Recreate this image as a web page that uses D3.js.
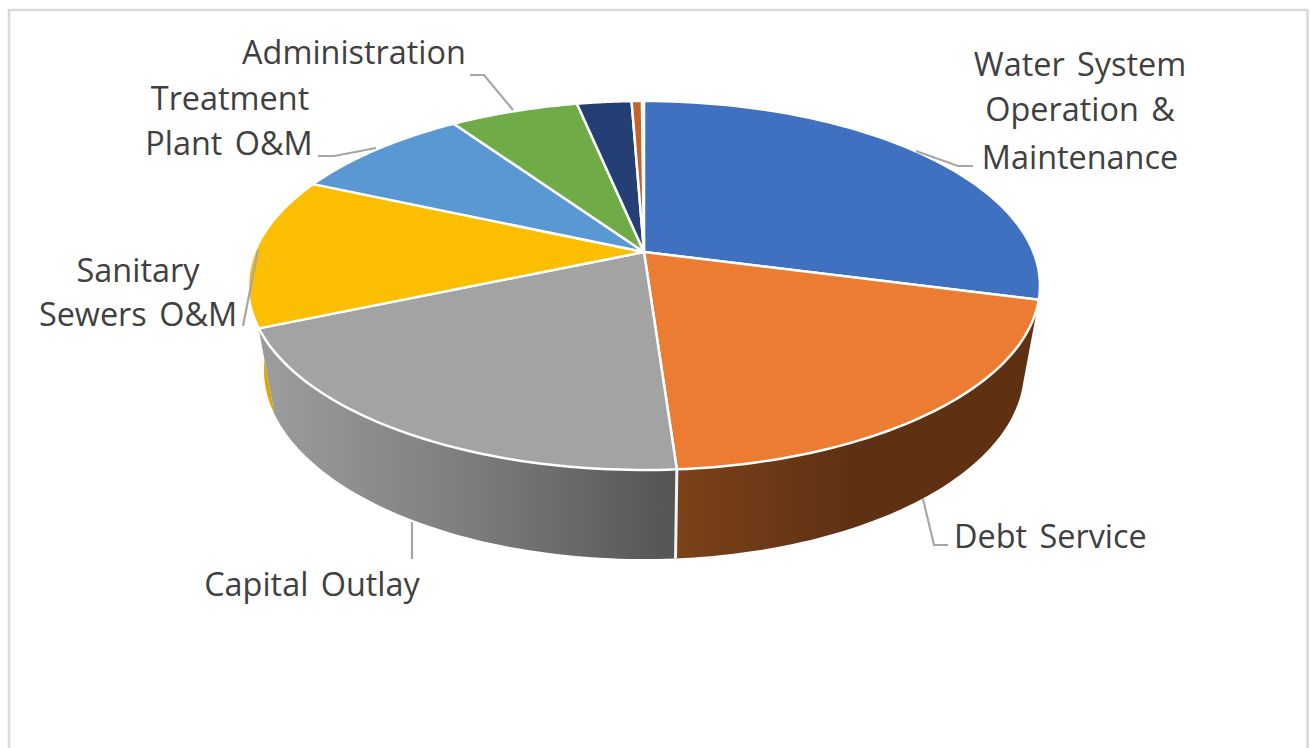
<!DOCTYPE html>
<html>
<head>
<meta charset="utf-8">
<script src="https://cdn.jsdelivr.net/npm/d3@7"></script>
<style>
  html, body { margin: 0; padding: 0; background: #fff; }
  svg { display: block; }
  text { font-family: "Open Sans", sans-serif; fill: #404040; word-spacing: 4px; }
</style>
</head>
<body>
<svg id="chart" width="1310" height="748"></svg>
<script>
// Budget shares, clockwise from twelve o'clock (percent of total).
const categories = ["Water System Operation & Maintenance", "Debt Service", "Capital Outlay",
  "Sanitary Sewers O&M", "Treatment Plant O&M", "Administration", "Other", "Reserve"];
const shares = [29.1, 19.8, 19.6, 13.2, 8.8, 6.25, 2.65, 0.5];
const topColors = ["#4070c0", "#eb7c31", "#a3a3a3", "#fcbe00", "#5a98d3", "#6fab46", "#233f73", "#c5622a"];
const wallStops = {
  1: ["#7c421a", "#5f3113", "#5f3113"],
  2: ["#9b9b9b", "#7c7c7c", "#545454"],
  3: ["#e0a800", "#d9a200", "#d9a200"]
};

// Callout text, anchor, leader line: each label line with its baseline.
const labelLines = [
  { text: "Water System", x: 1080, y: 76, anchor: "middle" },
  { text: "Operation &", x: 1080, y: 121, anchor: "middle" },
  { text: "Maintenance", x: 1080, y: 169, anchor: "middle" },
  { text: "Debt Service", x: 954, y: 548, anchor: "start" },
  { text: "Capital Outlay", x: 312, y: 596, anchor: "middle" },
  { text: "Sanitary", x: 138, y: 282, anchor: "middle" },
  { text: "Sewers O&M", x: 138, y: 326, anchor: "middle" },
  { text: "Treatment", x: 230, y: 110, anchor: "middle" },
  { text: "Plant O&M", x: 229, y: 155, anchor: "middle" },
  { text: "Administration", x: 354, y: 64, anchor: "middle" }
];
const leaders = [
  [[916, 151], [958, 166], [973, 166]],
  [[923, 499], [934, 545], [948, 545]],
  [[412, 522], [412, 559]],
  [[258, 250], [243, 326]],
  [[376, 148], [334, 156], [318, 156]],
  [[513, 110], [484, 75], [470, 75]]
];

const svg = d3.select("#chart");
// The shares total 99.9, which leaves the small gap before the first slice.
const slices = d3.pie().sort(null).value(d => d)
  .endAngle(2 * Math.PI * d3.sum(shares) / 100)(shares);

// Perspective view of a disc: the near edge is drawn larger than the far edge.
const tilt = 0.1816;
const topDisc = { cx: 644, ay: 252, a: 389.4, b: 178.4 };
const baseDisc = { cx: 644, ay: 335.7, a: 373.7, b: 182.8 };
const project = (disc, t) => {
  const X = Math.sin(t), Y = -Math.cos(t), w = 1 - tilt * Y;
  return [disc.cx + disc.a * X / w, disc.ay + disc.b * Y / w];
};
const arcSamples = (disc, s) => d3.range(0, 61).map(i =>
  project(disc, s.startAngle + (s.endAngle - s.startAngle) * i / 60));
const outline = d3.line();

// Wall gradients run left to right across the front of the cylinder.
const defs = svg.append("defs");
Object.entries(wallStops).forEach(([i, stops]) => {
  const s = slices[+i];
  const xs = arcSamples(baseDisc, s).map(p => p[0]);
  const g = defs.append("linearGradient")
    .attr("id", "wall" + i).attr("gradientUnits", "userSpaceOnUse")
    .attr("x1", d3.min(xs)).attr("x2", d3.max(xs)).attr("y1", 0).attr("y2", 0);
  stops.forEach((c, k) => g.append("stop").attr("offset", k / (stops.length - 1)).attr("stop-color", c));
});

// Chart frame: open at the bottom of the page.
svg.append("path")
  .attr("d", "M9,748V10H1307.5V748")
  .attr("fill", "none").attr("stroke", "#d9d9d9").attr("stroke-width", 2.6);

// Yellow wall first (behind), then brown and gray.
[3, 1, 2].forEach(i => {
  const s = slices[i];
  const pts = arcSamples(topDisc, s).concat(arcSamples(baseDisc, s).reverse());
  svg.append("path").attr("d", outline(pts) + "Z")
    .attr("fill", `url(#wall${i})`).attr("stroke", "none");
});
// Seam between the two front walls.
svg.append("path")
  .attr("d", outline([project(topDisc, slices[1].endAngle), project(baseDisc, slices[1].endAngle)]))
  .attr("stroke", "#f2f2f2").attr("stroke-width", 3).attr("fill", "none");

// Top face.
svg.append("g").selectAll("path").data(slices).join("path")
  .attr("d", s => outline([[topDisc.cx, topDisc.ay], ...arcSamples(topDisc, s)]) + "Z")
  .attr("fill", (s, i) => topColors[i])
  .attr("stroke", "#fff").attr("stroke-width", 2.5).attr("stroke-linejoin", "round");

// Leader lines and callouts.
svg.append("g").selectAll("path").data(leaders).join("path")
  .attr("d", outline).attr("fill", "none").attr("stroke", "#a6a6a6").attr("stroke-width", 2.2);
svg.append("g").selectAll("text").data(labelLines).join("text")
  .attr("x", d => d.x).attr("y", d => d.y).attr("text-anchor", d => d.anchor)
  .attr("font-size", 32.4).text(d => d.text);
</script>
</body>
</html>
